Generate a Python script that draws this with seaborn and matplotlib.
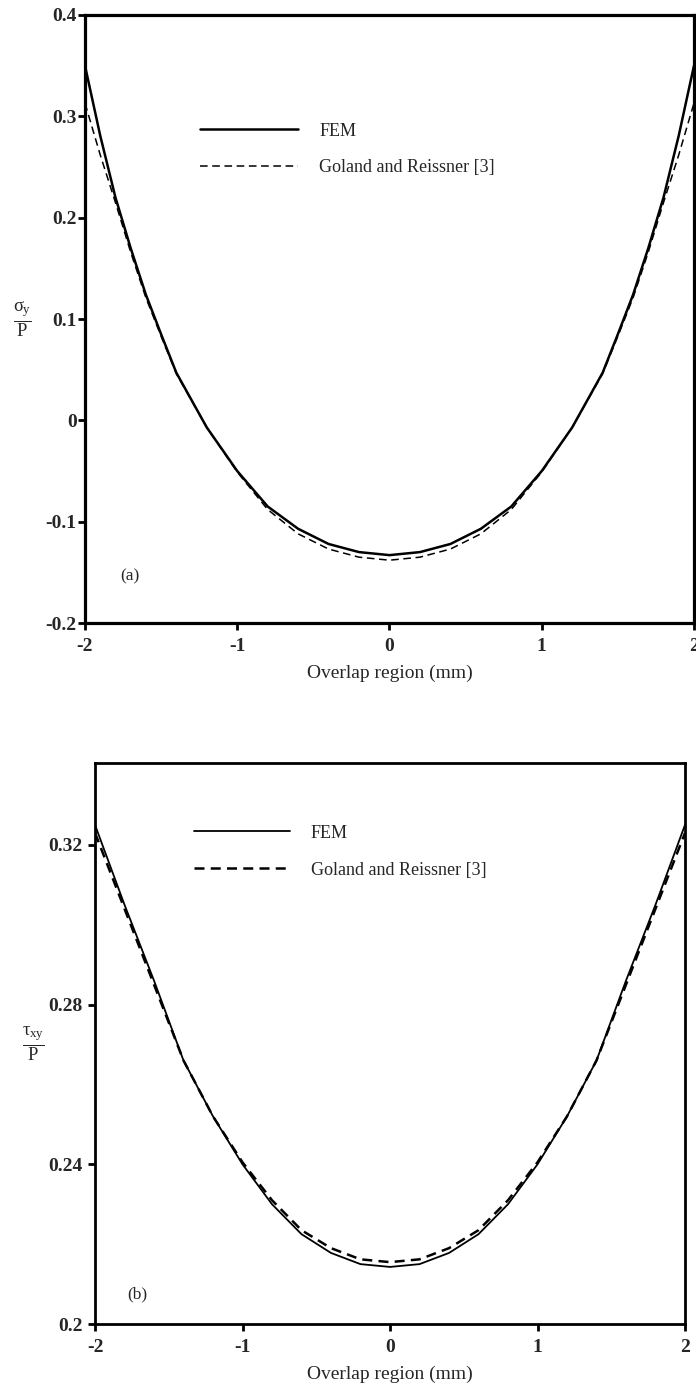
import numpy as np
import pandas as pd
import matplotlib
matplotlib.use("Agg")
import matplotlib.pyplot as plt
import seaborn as sns

# ---- data ----
x_half = [-2.0, -1.9, -1.8, -1.7, -1.6, -1.5, -1.4, -1.2, -1.0, -0.8, -0.6, -0.4, -0.2, 0.0]
sig_fem_half = [0.350, 0.281, 0.220, 0.170, 0.124, 0.085, 0.047, -0.007, -0.050, -0.085, -0.107, -0.122, -0.130, -0.133]
sig_gr_half = [0.313, 0.262, 0.215, 0.166, 0.121, 0.083, 0.046, -0.007, -0.051, -0.088, -0.112, -0.127, -0.135, -0.138]

x2_half = [-2.0, -1.8, -1.6, -1.4, -1.2, -1.0, -0.8, -0.6, -0.4, -0.2, 0.0]
tau_fem_half = [0.325, 0.305, 0.286, 0.266, 0.252, 0.240, 0.230, 0.2225, 0.2178, 0.2150, 0.2143]
tau_gr_half = [0.323, 0.304, 0.285, 0.266, 0.252, 0.2405, 0.231, 0.2235, 0.2190, 0.2162, 0.2155]

x_ticks = [-2, -1, 0, 1, 2]
y_ticks_a = [-0.2, -0.1, 0, 0.1, 0.2, 0.3, 0.4]
y_ticklabels_a = ["-0.2", "-0.1", "0", "0.1", "0.2", "0.3", "0.4"]
y_ticks_b = [0.2, 0.24, 0.28, 0.32]
y_ticklabels_b = ["0.2", "0.24", "0.28", "0.32"]
series_names = ["FEM", "Goland and Reissner [3]"]


def mirror(xs, ys):
    xs = list(xs) + [-v for v in reversed(xs[:-1])]
    ys = list(ys) + list(reversed(ys[:-1]))
    return xs, ys


xa, fa = mirror(x_half, sig_fem_half)
_, ga = mirror(x_half, sig_gr_half)
xb, fb = mirror(x2_half, tau_fem_half)
_, gb = mirror(x2_half, tau_gr_half)

df_a = pd.DataFrame({"x": xa + xa, "y": fa + ga,
                     "series": [series_names[0]] * len(xa) + [series_names[1]] * len(xa)})
df_b = pd.DataFrame({"x": xb + xb, "y": fb + gb,
                     "series": [series_names[0]] * len(xb) + [series_names[1]] * len(xb)})

sns.set_style("ticks")
plt.rcParams["font.family"] = ["Liberation Serif", "DejaVu Serif"]
plt.rcParams["mathtext.fontset"] = "custom"
plt.rcParams["mathtext.rm"] = "Liberation Serif"
plt.rcParams["mathtext.it"] = "Liberation Serif"
plt.rcParams["mathtext.bf"] = "Liberation Serif:bold"

fig = plt.figure(figsize=(6.96, 13.87), dpi=100)
ax1 = fig.add_axes([0.1221, 0.5508, 0.8750, 0.4384])
ax2 = fig.add_axes([0.1365, 0.0454, 0.8477, 0.4045])


def style(ax, ypad, spine_w):
    for s in ax.spines.values():
        s.set_linewidth(spine_w)
        s.set_color("black")
    ax.tick_params(direction="out", length=5, width=2, labelsize=14, color="black")
    ax.tick_params(axis="x", pad=6)
    ax.tick_params(axis="y", pad=ypad)
    for lab in ax.get_xticklabels() + ax.get_yticklabels():
        lab.set_fontweight("bold")
    ax.set_xlabel("Overlap region (mm)", fontsize=14, labelpad=7)


sns.lineplot(data=df_a, x="x", y="y", hue="series", style="series",
             palette=["black", "black"], dashes=[(None, None), (5, 3)],
             ax=ax1, legend=False, sort=False, estimator=None)
ax1.lines[0].set_linewidth(1.8)
ax1.lines[1].set_linewidth(1.1)
ax1.lines[1].set_dashes((5, 3))
ax1.set_xlim(-2, 2)
ax1.set_ylim(-0.2, 0.4)
ax1.set_xticks(x_ticks)
ax1.set_xticklabels([str(v) for v in x_ticks])
ax1.set_yticks(y_ticks_a)
ax1.set_yticklabels(y_ticklabels_a)
style(ax1, 1, 2.3)
ax1.set_ylabel(r"$\frac{\sigma_y}{P}$", rotation=0, fontsize=19, va="center", ha="center")
ax1.yaxis.set_label_coords(-0.102, 0.5)
ax1.text(0.058, 0.076, "(a)", transform=ax1.transAxes, fontsize=12.5, ha="left", va="center")
ax1.legend(ax1.lines, series_names, loc="upper left", bbox_to_anchor=(0.189, 0.823),
           frameon=False, fontsize=13, handlelength=5.4, handletextpad=1.2,
           labelspacing=1.1, borderpad=0, borderaxespad=0)

sns.lineplot(data=df_b, x="x", y="y", hue="series", style="series",
             palette=["black", "black"], dashes=[(None, None), (4, 2.5)],
             ax=ax2, legend=False, sort=False, estimator=None)
ax2.lines[0].set_linewidth(1.3)
ax2.lines[1].set_linewidth(1.8)
ax2.lines[1].set_dashes((4, 2.5))
ax2.set_xlim(-2, 2)
ax2.set_ylim(0.2, 0.3405)
ax2.set_xticks(x_ticks)
ax2.set_xticklabels([str(v) for v in x_ticks])
ax2.set_yticks(y_ticks_b)
ax2.set_yticklabels(y_ticklabels_b)
style(ax2, 4, 2.0)
ax2.set_ylabel(r"$\frac{\tau_{xy}}{P}$", rotation=0, fontsize=19, va="center", ha="center")
ax2.yaxis.set_label_coords(-0.105, 0.5)
ax2.text(0.055, 0.052, "(b)", transform=ax2.transAxes, fontsize=12.5, ha="left", va="center")
ax2.legend(ax2.lines, series_names, loc="upper left", bbox_to_anchor=(0.168, 0.89),
           frameon=False, fontsize=13, handlelength=5.3, handletextpad=1.15,
           labelspacing=1.1, borderpad=0, borderaxespad=0)

fig.savefig("out.png", dpi=100)
